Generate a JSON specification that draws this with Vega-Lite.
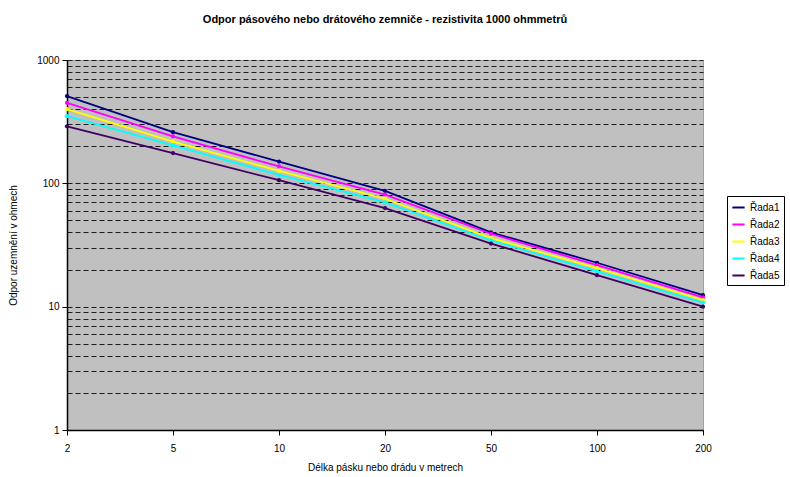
{
  "$schema": "https://vega.github.io/schema/vega-lite/v6.json",
  "autosize": {"type": "none"},
  "padding": {"left": 67, "top": 60, "right": 87, "bottom": 47},
  "width": 636,
  "height": 370,
  "background": "white",
  "title": {
    "text": "Odpor pásového nebo drátového zemniče - rezistivita 1000 ohmmetrů",
    "font": "Liberation Sans",
    "fontSize": 11,
    "fontWeight": "bold",
    "color": "#000",
    "anchor": "middle",
    "offset": 30
  },
  "config": {
    "view": {"fill": "#c0c0c0", "stroke": "#a0a0a0", "strokeWidth": 1},
    "axis": {"labelFont": "Liberation Sans", "titleFont": "Liberation Sans", "labelColor": "#000", "titleColor": "#000", "domainColor": "#000", "tickColor": "#000"}
  },
  "data": {
    "values": [
      {"x": 2, "y": 510, "s": "Řada1"},
      {"x": 5, "y": 260, "s": "Řada1"},
      {"x": 10, "y": 150, "s": "Řada1"},
      {"x": 20, "y": 87, "s": "Řada1"},
      {"x": 50, "y": 40, "s": "Řada1"},
      {"x": 100, "y": 22.7, "s": "Řada1"},
      {"x": 200, "y": 12.4, "s": "Řada1"},
      {"x": 2, "y": 450, "s": "Řada2"},
      {"x": 5, "y": 240, "s": "Řada2"},
      {"x": 10, "y": 137, "s": "Řada2"},
      {"x": 20, "y": 81, "s": "Řada2"},
      {"x": 50, "y": 39, "s": "Řada2"},
      {"x": 100, "y": 21.7, "s": "Řada2"},
      {"x": 200, "y": 11.9, "s": "Řada2"},
      {"x": 2, "y": 400, "s": "Řada3"},
      {"x": 5, "y": 218, "s": "Řada3"},
      {"x": 10, "y": 126, "s": "Řada3"},
      {"x": 20, "y": 75, "s": "Řada3"},
      {"x": 50, "y": 36, "s": "Řada3"},
      {"x": 100, "y": 20.5, "s": "Řada3"},
      {"x": 200, "y": 11.3, "s": "Řada3"},
      {"x": 2, "y": 350, "s": "Řada4"},
      {"x": 5, "y": 203, "s": "Řada4"},
      {"x": 10, "y": 117, "s": "Řada4"},
      {"x": 20, "y": 70, "s": "Řada4"},
      {"x": 50, "y": 34.5, "s": "Řada4"},
      {"x": 100, "y": 19.3, "s": "Řada4"},
      {"x": 200, "y": 10.8, "s": "Řada4"},
      {"x": 2, "y": 290, "s": "Řada5"},
      {"x": 5, "y": 176, "s": "Řada5"},
      {"x": 10, "y": 106, "s": "Řada5"},
      {"x": 20, "y": 63, "s": "Řada5"},
      {"x": 50, "y": 32.5, "s": "Řada5"},
      {"x": 100, "y": 18, "s": "Řada5"},
      {"x": 200, "y": 10, "s": "Řada5"}
    ]
  },
  "mark": {"type": "line", "strokeWidth": 1.8, "point": {"filled": true, "size": 18}},
  "encoding": {
    "x": {
      "field": "x",
      "type": "ordinal",
      "scale": {"type": "point", "padding": 0, "domain": [2, 5, 10, 20, 50, 100, 200]},
      "axis": {
        "title": "Délka pásku nebo drádu v metrech",
        "titleFontSize": 10,
        "titleFontWeight": "normal",
        "titlePadding": 9,
        "labelAngle": 0,
        "labelFontSize": 10,
        "labelPadding": 8,
        "tickSize": 5,
        "domainWidth": 1.5,
        "grid": false
      }
    },
    "y": {
      "field": "y",
      "type": "quantitative",
      "scale": {"type": "log", "domain": [1, 1000]},
      "axis": {
        "title": "Odpor uzemnění v ohmech",
        "titleFontSize": 10,
        "titleFontWeight": "normal",
        "titlePadding": 18,
        "labelFontSize": 10,
        "labelPadding": 3,
        "tickSize": 5,
        "domainWidth": 1.5,
        "values": [1, 2, 3, 4, 5, 6, 7, 8, 9, 10, 20, 30, 40, 50, 60, 70, 80, 90, 100, 200, 300, 400, 500, 600, 700, 800, 900, 1000],
        "labelExpr": "indexof([1, 10, 100, 1000], datum.value) >= 0 ? format(datum.value, 'd') : ''",
        "tickOpacity": {"condition": {"test": "indexof([1, 10, 100, 1000], datum.value) >= 0", "value": 1}, "value": 0},
        "grid": true,
        "gridColor": "#000000",
        "gridDash": [5, 3],
        "gridWidth": 1.2,
        "gridOpacity": 0.85
      }
    },
    "color": {
      "field": "s",
      "type": "nominal",
      "scale": {"domain": ["Řada1", "Řada2", "Řada3", "Řada4", "Řada5"], "range": ["#000080", "#ff00ff", "#ffff00", "#00ffff", "#400060"]},
      "legend": {
        "title": null,
        "orient": "none",
        "legendX": 660,
        "legendY": 136,
        "fillColor": "white",
        "strokeColor": "#000",
        "padding": 4,
        "symbolType": "stroke",
        "symbolStrokeWidth": 2,
        "symbolSize": 150,
        "labelFont": "Liberation Sans",
        "labelFontSize": 10,
        "labelColor": "#000",
        "rowPadding": 4
      }
    }
  }
}
